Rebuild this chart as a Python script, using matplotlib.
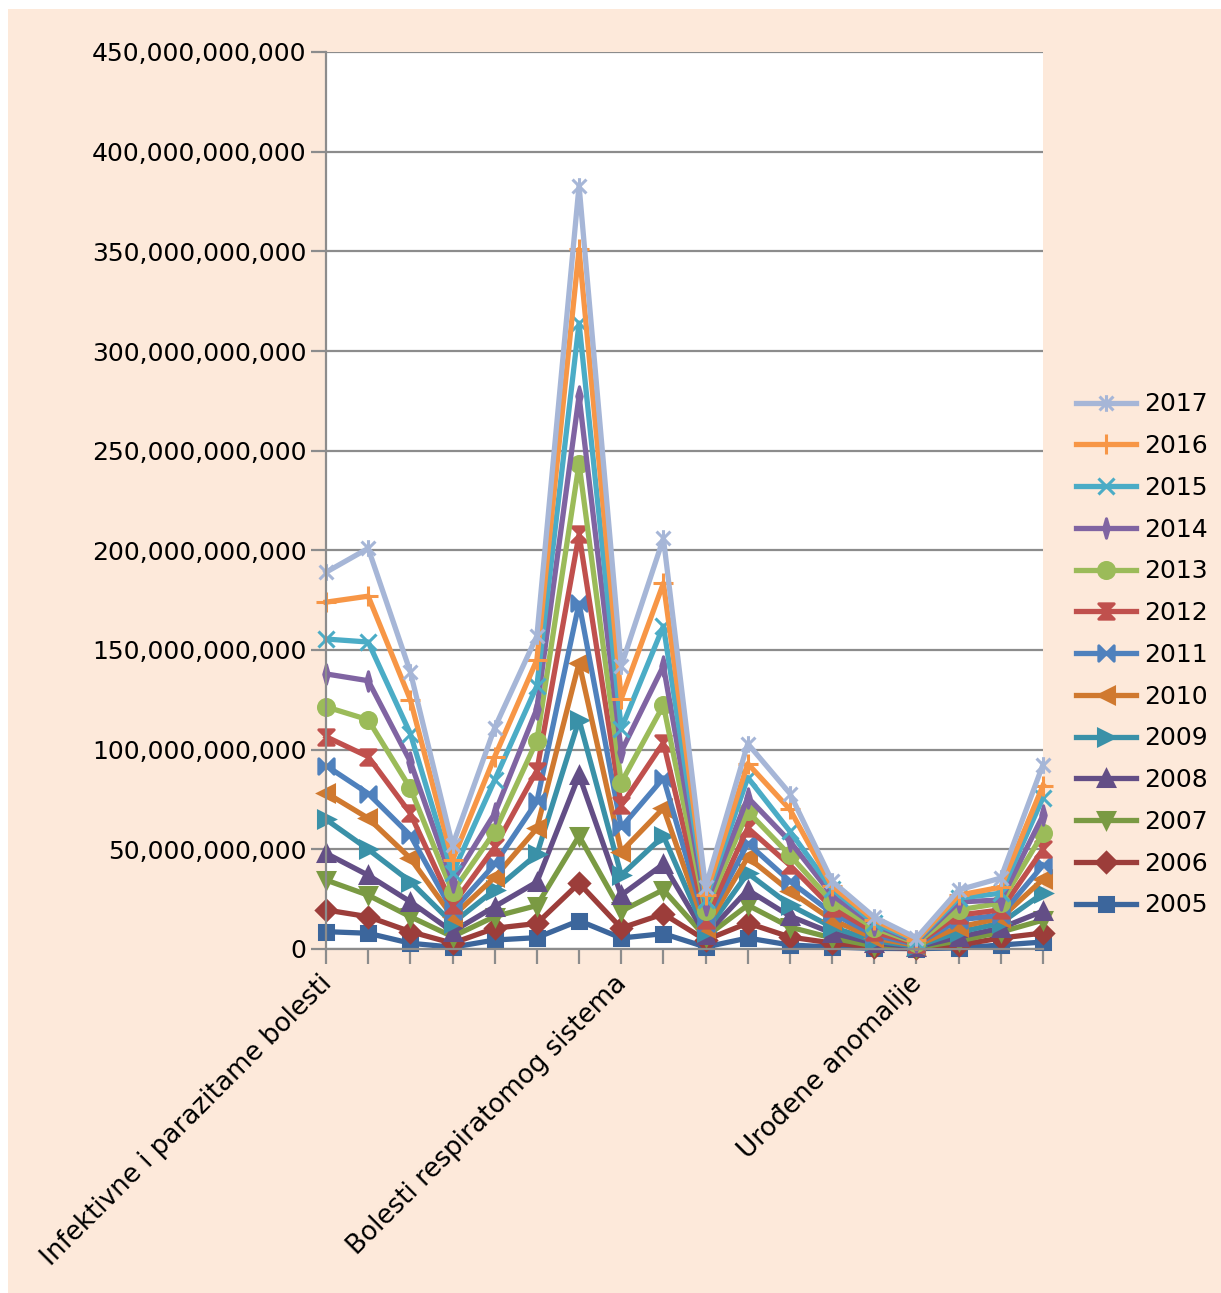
import matplotlib
matplotlib.use("Agg")
import matplotlib.pyplot as plt
from matplotlib.path import Path
from matplotlib.patches import Rectangle
from matplotlib.ticker import FuncFormatter, MultipleLocator

# ---------------- data (values in billions) ----------------
n_categories = 18
tick_label_positions = [0, 7, 14]
tick_labels = ["Infektivne i parazitame bolesti",
               "Bolesti respiratomog sistema",
               "Urođene anomalije"]

years = ["2017", "2016", "2015", "2014", "2013", "2012", "2011",
         "2010", "2009", "2008", "2007", "2006", "2005"]

v2017 = [189, 201, 139, 52, 111, 157, 383, 142, 206, 31, 103, 78, 34, 16, 5.5, 29.6, 35.6, 92.5]
v2016 = [174, 177, 125, 44.6, 96.5, 145, 351, 125.5, 183.5, 27, 93, 70, 31.5, 14.5, 4.5, 27, 31, 82]
v2015 = [155.5, 154, 108, 38, 84.8, 132, 314, 110.5, 162, 24.6, 86, 59, 30, 13, 4, 25.5, 28, 76]
v2014 = [138, 134.6, 94, 33.8, 68, 120.5, 277.5, 99, 142, 22, 76, 54, 27, 12, 3.5, 23.6, 24.6, 67]
v2013 = [121.5, 115, 80.6, 28.5, 58.8, 104.5, 243.5, 83.5, 122.3, 19, 69, 47, 23.6, 10.5, 3, 19.6, 23, 58]
v2012 = [106.5, 96.5, 68, 22, 51, 89.5, 208, 72, 103.5, 14.6, 60.7, 42, 20.6, 8.5, 2.6, 17, 19.6, 50]
v2011 = [92, 78, 57, 19, 42.5, 74, 173.5, 61, 85.8, 13, 53, 34, 18, 7, 2.2, 14.6, 17, 42]
v2010 = [78.4, 65.6, 45.5, 16.2, 36, 60.5, 143.6, 48.8, 70.7, 10.5, 46, 29, 14.6, 5.5, 1.8, 11, 15.5, 35]
v2009 = [65, 50, 33.8, 12.9, 29.7, 47.5, 115, 37, 56.7, 8.5, 38, 22, 11, 4, 1.4, 8.5, 13, 28]
v2008 = [48, 37, 23.7, 8.7, 21.3, 33.6, 87.2, 27, 42.6, 7, 29.6, 16.5, 8, 3, 1, 6, 10.5, 19]
v2007 = [34.6, 27, 16.2, 6.2, 16.3, 21.8, 56.7, 19, 29.7, 6, 22, 11, 5.5, 1.5, 0.7, 4, 8.5, 14.5]
v2006 = [19.6, 16.2, 8.7, 2.9, 10.4, 12.8, 33, 10.5, 17.6, 4.5, 13, 6, 3, 1, 0.4, 2, 5.5, 8]
v2005 = [8.7, 7.9, 2.9, 0.9, 4.5, 5.7, 14.2, 5.5, 7.7, 1, 5.5, 2, 1, 0.3, 0.2, 0.5, 2, 3.5]

series_values = [v2017, v2016, v2015, v2014, v2013, v2012, v2011,
                 v2010, v2009, v2008, v2007, v2006, v2005]

colors = ["#A6B6D7", "#F79646", "#4BACC6", "#8064A2", "#9BBB59", "#C0504D",
          "#4F81BD", "#D0792F", "#3A91A8", "#634E86", "#7A9A43", "#9C3D3A", "#3C669C"]

# ---------------- custom markers ----------------
star_path = Path([(-1, -1), (1, 1), (-1, 1), (1, -1), (0, -1.2), (0, 1.2)],
                 [Path.MOVETO, Path.LINETO, Path.MOVETO, Path.LINETO, Path.MOVETO, Path.LINETO])
thin_diamond = Path([(0, 1), (0.28, 0), (0, -1), (-0.28, 0), (0, 1)],
                    [Path.MOVETO, Path.LINETO, Path.LINETO, Path.LINETO, Path.CLOSEPOLY])
hourglass = Path([(-1, 1), (1, 1), (-1, -1), (1, -1), (-1, 1)],
                 [Path.MOVETO, Path.LINETO, Path.LINETO, Path.LINETO, Path.CLOSEPOLY])
bowtie = Path([(-1, 1), (-1, -1), (1, 1), (1, -1), (-1, 1)],
              [Path.MOVETO, Path.LINETO, Path.LINETO, Path.LINETO, Path.CLOSEPOLY])

markers = [star_path, "+", "x", thin_diamond, "o", hourglass, bowtie,
           "<", ">", "^", "v", "D", "s"]
msizes = [12, 14, 11, 14, 11.5, 11, 11, 11.5, 11.5, 11.5, 11.5, 10, 10.5]

# ---------------- figure ----------------
W, H = 1221, 1293
fig = plt.figure(figsize=(W / 100, H / 100), dpi=100, facecolor="white")
fig.patches.append(Rectangle((8 / W, 0), 1 - 8 / W, 1 - 9 / H, transform=fig.transFigure,
                             facecolor="#FDE9DA", edgecolor="none", zorder=-10))

ax = fig.add_axes([326 / W, 1 - 949 / H, (1043 - 326) / W, (949 - 52) / H])
ax.set_facecolor("white")

x = list(range(n_categories))
# draw 2005 first so that 2017 ends up on top
for yr, vals, col, mk, ms in reversed(list(zip(years, series_values, colors, markers, msizes))):
    yv = [v * 1e9 for v in vals]
    ax.plot(x, yv, color=col, lw=3.8, marker=mk, markersize=ms,
            markerfacecolor=col, markeredgecolor=col, markeredgewidth=2.2,
            label=yr, solid_joinstyle="round", clip_on=False)

ax.set_xlim(0, n_categories - 1)
ax.set_ylim(0, 450e9)
ax.yaxis.set_major_locator(MultipleLocator(50e9))
ax.yaxis.set_major_formatter(FuncFormatter(lambda v, p: f"{v:,.0f}"))
ax.grid(axis="y", color="#8C8C8C", lw=1.6)
ax.set_axisbelow(True)

ax.set_xticks(x)
ax.set_xticklabels([""] * n_categories)
for pos, lab in zip(tick_label_positions, tick_labels):
    ax.text(pos - 0.17, -0.024, lab, transform=ax.get_xaxis_transform(), rotation=45,
            ha="right", va="top", rotation_mode="anchor", fontsize=18.8,
            color="black")

for side in ["top", "right"]:
    ax.spines[side].set_visible(False)
for side in ["left", "bottom"]:
    ax.spines[side].set_color("#8C8C8C")
    ax.spines[side].set_linewidth(1.6)

ax.tick_params(axis="both", direction="out", length=11, width=1.6, color="#8C8C8C",
               labelsize=18, labelcolor="black")
ax.tick_params(axis="y", pad=3)

handles, labels = ax.get_legend_handles_labels()
handles, labels = handles[::-1], labels[::-1]
leg = fig.legend(handles, labels, loc="center left",
                 bbox_to_anchor=(1076 / W, 1 - 655 / H), frameon=False,
                 fontsize=18, handlelength=2.4, handletextpad=0.33,
                 labelspacing=0.71, borderpad=0, borderaxespad=0)

fig.savefig("out.png", dpi=100, facecolor=fig.get_facecolor())
